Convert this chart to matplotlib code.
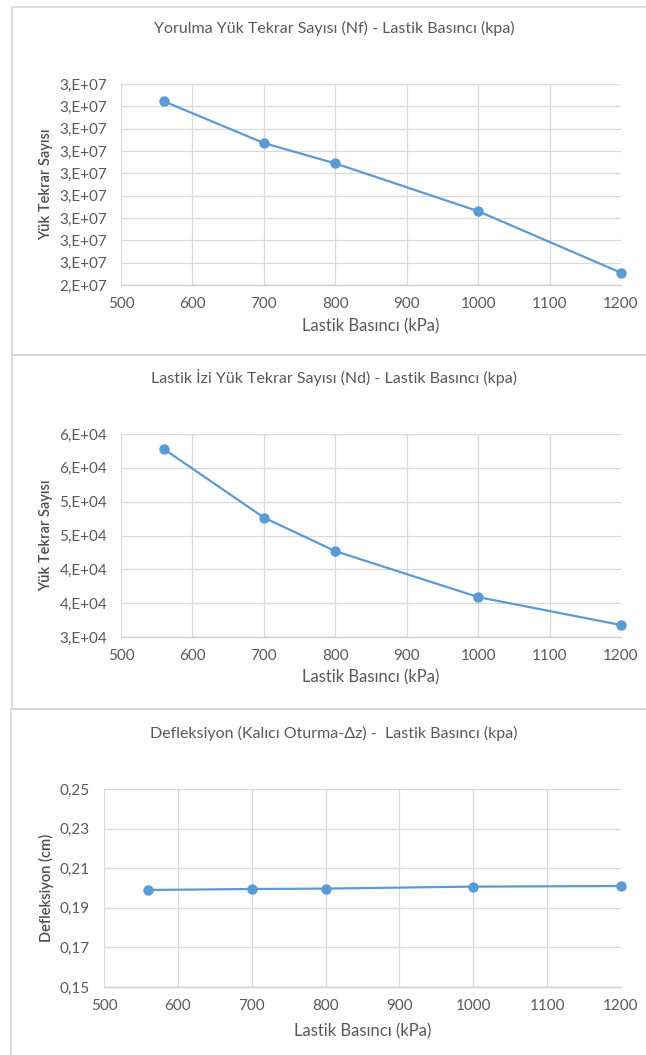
import math
import matplotlib
matplotlib.use("Agg")
import matplotlib.pyplot as plt
from matplotlib.lines import Line2D
from matplotlib.ticker import FuncFormatter, FixedLocator, MultipleLocator

# Data
pressure = [560, 700, 800, 1000, 1200]
nf_values = [2.6445e7, 2.6071e7, 2.5889e7, 2.5461e7, 2.4910e7]
nd_values = [57780, 47650, 42690, 35900, 31770]
deflection = [0.1990, 0.1995, 0.1997, 0.2007, 0.2010]

titles = [
    "Yorulma Yük Tekrar Sayısı (Nf) - Lastik Basıncı (kpa)",
    "Lastik İzi Yük Tekrar Sayısı (Nd) - Lastik Basıncı (kpa)",
    "Defleksiyon (Kalıcı Oturma-Δz) -  Lastik Basıncı (kpa)",
]
x_label = "Lastik Basıncı (kPa)"
y_labels = ["Yük Tekrar Sayısı", "Yük Tekrar Sayısı", "Defleksiyon (cm)"]

W, H = 646, 1055
DPI = 100
TEXT = "#595959"
GRID = "#d9d9d9"
LINE = "#5b9bd5"
FONT = ["Lato", "DejaVu Sans"]

plt.rcParams["font.family"] = FONT

fig = plt.figure(figsize=(W / DPI, H / DPI), dpi=DPI)
fig.patch.set_facecolor("white")


def px_axes(left, top, right, bottom):
    return fig.add_axes([left / W, 1 - bottom / H, (right - left) / W, (bottom - top) / H])


def sci_excel(v, pos=None):
    # "0,E+00" style: mantissa rounded half away from zero
    if v == 0:
        return "0,E+00"
    exp = int(math.floor(math.log10(abs(v))))
    mant = v / 10 ** exp
    m = int(math.floor(mant + 0.5 + 1e-9))
    if m >= 10:
        m //= 10
        exp += 1
    return f"{m},E+{exp:02d}"


def dec_comma(v, pos=None):
    return f"{v:.2f}".replace(".", ",")


def frame(x0, y0, x1, y1, bottom=True):
    segs = [((x0, x0), (y0, y1)), ((x0, x1), (y0, y0))]
    if bottom:
        segs.append(((x0, x1), (y1, y1)))
    for xs, ys in segs:
        fig.add_artist(Line2D([x / W for x in xs], [1 - y / H for y in ys],
                              color="#d9d9d9", lw=1.3, transform=fig.transFigure))


frame(12, 7, 660, 355)
frame(12, 355, 660, 709)
frame(11, 709, 660, 1070, bottom=False)

panels = [
    dict(box=(121, 84, 621, 285), y=nf_values, ylim=(2.48e7, 2.66e7), step=2e5,
         fmt=sci_excel, title_y=28, xlabel_y=326, ylabel_x=46),
    dict(box=(121, 434, 621, 637), y=nd_values, ylim=(30000, 60000), step=5000,
         fmt=sci_excel, title_y=378, xlabel_y=677, ylabel_x=46),
    dict(box=(104, 789, 621, 987), y=deflection, ylim=(0.15, 0.25), step=0.02,
         fmt=dec_comma, title_y=733, xlabel_y=1031, ylabel_x=46),
]

for p, title, ylab in zip(panels, titles, y_labels):
    l, t, r, b = p["box"]
    ax = px_axes(l, t, r, b)
    ax.plot(pressure, p["y"], color=LINE, lw=1.6, marker="o", ms=6.5,
            mfc=LINE, mec=LINE, zorder=3, clip_on=False)
    lo, hi = p["ylim"]
    n = int(round((hi - lo) / p["step"]))
    ax.set_xlim(500, 1200)
    ax.set_ylim(lo, hi)
    ax.xaxis.set_major_locator(MultipleLocator(100))
    ax.yaxis.set_major_locator(FixedLocator([lo + k * p["step"] for k in range(n + 1)]))
    ax.yaxis.set_major_formatter(FuncFormatter(p["fmt"]))
    ax.grid(True, color=GRID, lw=0.9)
    ax.set_axisbelow(True)
    for side in ("top", "right", "left"):
        ax.spines[side].set_visible(False)
    ax.spines["bottom"].set_color("#d0d0d0")
    ax.spines["bottom"].set_linewidth(1.0)
    ax.tick_params(length=0, labelsize=11, labelcolor=TEXT, pad=10)
    ax.tick_params(axis="x", pad=9)

    fig.text(334 / W, 1 - p["title_y"] / H, title, ha="center", va="center",
             fontsize=11.5, color=TEXT)
    fig.text(0.5 * (l + r) / W, 1 - p["xlabel_y"] / H, x_label, ha="center", va="center",
             fontsize=12, color=TEXT)
    fig.text(p["ylabel_x"] / W, 1 - 0.5 * (t + b) / H, ylab, ha="center", va="center",
             rotation=90, fontsize=10.5, color="#4d4d4d", fontweight="semibold")

fig.savefig("out.png", dpi=DPI, facecolor="white")
